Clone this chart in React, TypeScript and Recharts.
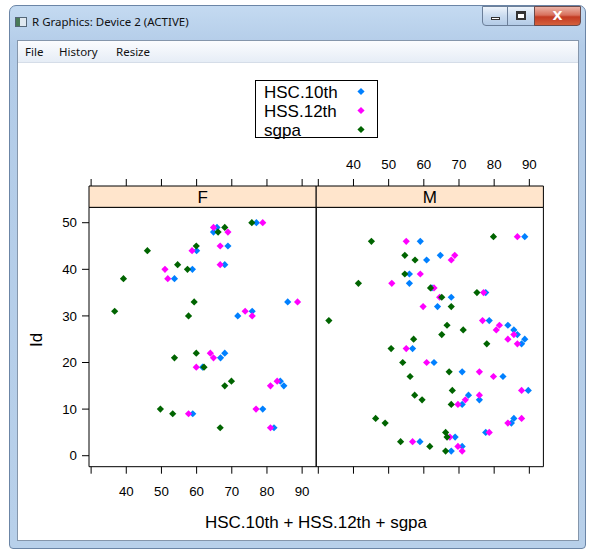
import React from 'react';
import { ScatterChart, Scatter, XAxis, YAxis, ReferenceArea } from 'recharts';

// ---- data ----
const seriesNames = ['HSC.10th', 'HSS.12th', 'sgpa'];
const seriesColors = ['#0080ff', '#ff00ff', '#006400'];
const xTicks = [30, 40, 50, 60, 70, 80, 90];
const yTicks = [0, 10, 20, 30, 40, 50];
const panelLabels = ['F', 'M'];

const fIds = [50, 49, 48, 45, 44, 41, 40, 38, 33, 31, 30, 22, 21, 19, 16, 15, 10, 9, 6];
const fHSC10 = [77.0, 65.8, 64.8, 68.9, 60.0, 68.0, 58.8, 53.7, 85.9, 75.8, 71.7, 68.0, 66.8, 61.7, 83.8, 84.8, 78.8, 58.9, 82.0];
const fHSS12 = [78.8, 64.8, 68.9, 66.7, 58.7, 66.7, 51.0, 51.8, 88.7, 73.8, 75.8, 63.9, 64.8, 59.9, 82.9, 81.0, 76.9, 57.7, 81.0];
const fSgpa = [75.7, 68.0, 66.1, 59.9, 46.0, 54.6, 57.4, 39.2, 59.3, 36.7, 57.7, 59.9, 53.7, 62.1, 69.9, 68.0, 49.7, 53.2, 66.7];

const mIds = [47, 46, 43, 42, 39, 37, 36, 35, 34, 32, 29, 28, 27, 26, 25, 24, 23, 20, 18, 17, 14, 13, 12, 11, 8, 7, 5, 4, 3, 2, 1];
const mHSC10 = [88.7, 59.0, 64.7, 60.8, 55.9, 55.9, 62.3, 77.6, 67.8, 63.9, 78.6, 83.9, 85.6, 86.6, 88.7, 87.8, 56.8, 62.9, 70.9, 82.5, 89.7, 72.7, 75.8, 70.9, 85.6, 84.9, 77.6, 68.9, 58.9, 70.9, 67.8];
const mHSS12 = [86.6, 55.0, 68.8, 67.8, 59.0, 50.9, 62.9, 77.0, 64.5, 59.8, 76.7, 81.5, 80.6, 85.6, 83.9, 86.6, 55.0, 60.8, 75.8, 79.8, 87.8, 75.8, 71.8, 69.7, 87.8, 83.9, 78.6, 67.4, 56.8, 69.7, 70.9];
const mSgpa = [79.8, 45.1, 54.6, 57.5, 54.6, 41.4, 61.9, 75.1, 65.1, 67.8, 33.0, 66.6, 71.2, 65.1, 57.1, 77.9, 50.7, 54.0, 67.2, 56.1, 68.1, 57.4, 59.5, 67.8, 46.3, 49.0, 66.2, 66.6, 53.4, 61.7, 66.2];

// ---- layout ----
const W = 592;
const H = 552;
const X0 = 29.4;
const X1 = 94.0;
const Y0 = -2.36;
const YS = 53.3; // strip bottom
const YT = 57.88; // strip top
const FONT = '"Liberation Sans", Arial, sans-serif';

const Diamond = (p: any) => {
  const { cx, cy, fill } = p;
  if (cx == null || cy == null) return <g />;
  const r = 3.6;
  return <path d={`M${cx},${cy - r}L${cx + r},${cy}L${cx},${cy + r}L${cx - r},${cy}Z`} fill={fill} />;
};

const mkTick = (show: boolean, yPos: number) => (p: any) => {
  const v = p.payload && p.payload.value;
  if (!show || v < 40) return <g />;
  return (
    <text x={p.x} y={yPos} textAnchor="middle" dy="0.35em" fontSize={13.3} fill="#000" fontFamily={FONT}>
      {v}
    </text>
  );
};

function Panel(props: { label: string; ids: number[]; vals: number[][]; isF: boolean }) {
  const { label, ids, vals, isF } = props;
  const left = isF ? 89 : 316.2;
  const right = isF ? 316.2 : 543.4;
  const axisW = 40;
  const axisH = 30;
  const margin = {
    top: 186 - axisH,
    bottom: H - 466.7 - axisH,
    left: isF ? left - axisW : left,
    right: isF ? W - right : W - right - axisW,
  };
  return (
    <div style={{ position: 'absolute', left: 0, top: 0, width: W, height: H }}>
      <ScatterChart width={W} height={H} margin={margin}>
        <XAxis
          xAxisId="b"
          orientation="bottom"
          type="number"
          dataKey="x"
          domain={[X0, X1]}
          allowDataOverflow
          ticks={xTicks}
          interval={0}
          height={axisH}
          tickSize={7}
          tickMargin={0}
          axisLine={false}
          tickLine={{ stroke: '#000' }}
          tick={mkTick(isF, 491)}
        />
        <XAxis
          xAxisId="t"
          orientation="top"
          type="number"
          dataKey="x"
          domain={[X0, X1]}
          allowDataOverflow
          ticks={xTicks}
          interval={0}
          height={axisH}
          tickSize={7}
          tickMargin={0}
          axisLine={false}
          tickLine={{ stroke: '#000' }}
          tick={mkTick(!isF, 164)}
        />
        <YAxis
          yAxisId="y"
          orientation={isF ? 'left' : 'right'}
          type="number"
          dataKey="y"
          domain={[Y0, YT]}
          allowDataOverflow
          ticks={yTicks}
          interval={0}
          width={axisW}
          tickSize={7}
          tickMargin={5}
          axisLine={false}
          tickLine={{ stroke: '#000' }}
          tick={isF ? { fontSize: 13.3, fill: '#000', fontFamily: FONT } : false}
        />
        <ReferenceArea
          xAxisId="b"
          yAxisId="y"
          x1={X0}
          x2={X1}
          y1={Y0}
          y2={YS}
          fill="#ffffff"
          fillOpacity={0}
          stroke="#000"
          strokeWidth={1}
        />
        <ReferenceArea
          xAxisId="b"
          yAxisId="y"
          x1={X0}
          x2={X1}
          y1={YS}
          y2={YT}
          fill="#ffe5cc"
          fillOpacity={1}
          stroke="#000"
          strokeWidth={1}
          label={{ value: label, position: 'center', fontSize: 17, fill: '#000', fontFamily: FONT }}
        />
        {vals.map((v, si) => (
          <Scatter
            key={seriesNames[si]}
            name={seriesNames[si]}
            xAxisId="b"
            yAxisId="y"
            data={ids.map((id, i) => ({ x: v[i], y: id }))}
            fill={seriesColors[si]}
            shape={Diamond}
            isAnimationActive={false}
          />
        ))}
      </ScatterChart>
    </div>
  );
}

function WindowChrome() {
  return (
    <>
      <div
        style={{
          position: 'absolute',
          left: 9,
          top: 5,
          width: 577,
          height: 544,
          background: 'linear-gradient(#c4daf1, #b3cce8 40px, #b8d0ea)',
          border: '1px solid #6b85a6',
          borderRadius: '7px 7px 4px 4px',
          boxSizing: 'border-box',
        }}
      />
      {/* icon */}
      <div
        style={{
          position: 'absolute',
          left: 15,
          top: 17,
          width: 12,
          height: 10,
          background: 'linear-gradient(90deg,#4a7a58 0,#4a7a58 4px,#dfe8f0 4px)',
          border: '1px solid #556677',
          boxSizing: 'border-box',
        }}
      />
      <div
        style={{
          position: 'absolute',
          left: 32,
          top: 14,
          fontFamily: '"Noto Sans", "DejaVu Sans", sans-serif',
          fontSize: 11.5,
          color: '#111',
          whiteSpace: 'nowrap',
        }}
      >
        R Graphics: Device 2 (ACTIVE)
      </div>
      {/* buttons */}
      <div
        style={{
          position: 'absolute',
          left: 482,
          top: 6,
          width: 26,
          height: 20,
          background: 'linear-gradient(#eef4fb, #c9dbef 50%, #b4cbe6)',
          border: '1px solid #6b7f99',
          borderRadius: '0 0 0 4px',
          boxSizing: 'border-box',
        }}
      >
        <div style={{ position: 'absolute', left: 8, top: 10, width: 9, height: 3, border: '1px solid #333', background: '#fff', boxSizing: 'border-box' }} />
      </div>
      <div
        style={{
          position: 'absolute',
          left: 507,
          top: 6,
          width: 28,
          height: 20,
          background: 'linear-gradient(#eef4fb, #c9dbef 50%, #b4cbe6)',
          border: '1px solid #6b7f99',
          boxSizing: 'border-box',
        }}
      >
        <div style={{ position: 'absolute', left: 8, top: 4, width: 10, height: 9, border: '2px solid #333', borderTopWidth: 3, background: '#fff', boxSizing: 'border-box' }} />
      </div>
      <div
        style={{
          position: 'absolute',
          left: 534,
          top: 6,
          width: 47,
          height: 20,
          background: 'linear-gradient(#eab2a6, #d8705c 45%, #c33a22 55%, #d4603c)',
          border: '1px solid #6b4a4a',
          borderRadius: '0 0 4px 0',
          boxSizing: 'border-box',
          color: '#fff',
          fontFamily: '"DejaVu Sans", sans-serif',
          fontWeight: 'bold',
          fontSize: 13,
          textAlign: 'center',
          lineHeight: '18px',
        }}
      >
        X
      </div>
      {/* client area */}
      <div
        style={{
          position: 'absolute',
          left: 17,
          top: 40,
          width: 562,
          height: 501,
          background: '#fff',
          border: '1px solid #8596ab',
          boxSizing: 'border-box',
        }}
      >
        <div
          style={{
            position: 'absolute',
            left: 0,
            top: 0,
            width: '100%',
            height: 22,
            background: 'linear-gradient(#fbfcfe, #e6edf6)',
            borderBottom: '1px solid #d5dde8',
            boxSizing: 'border-box',
            fontFamily: '"Noto Sans", "DejaVu Sans", sans-serif',
            fontSize: 11.5,
            color: '#111',
          }}
        >
          <span style={{ position: 'absolute', left: 7, top: 3 }}>File</span>
          <span style={{ position: 'absolute', left: 41, top: 3 }}>History</span>
          <span style={{ position: 'absolute', left: 98, top: 3 }}>Resize</span>
        </div>
      </div>
    </>
  );
}

function Overlay() {
  const legendY = [92.5, 111.5, 130.5];
  return (
    <svg
      width={W}
      height={H}
      style={{ position: 'absolute', left: 0, top: 0, pointerEvents: 'none' }}
      fontFamily={FONT}
    >
      <rect x={255.5} y={80.5} width={122} height={57} fill="#fff" stroke="#000" strokeWidth={1} />
      {seriesNames.map((n, i) => (
        <g key={n}>
          <text x={264} y={legendY[i]} dy="0.35em" fontSize={17} fill="#000">
            {n}
          </text>
          <path
            d={`M361,${legendY[i] - 3.6 - 1}L${361 + 3.6},${legendY[i] - 1}L361,${legendY[i] + 3.6 - 1}L${361 - 3.6},${legendY[i] - 1}Z`}
            fill={seriesColors[i]}
          />
        </g>
      ))}
      <text x={316} y={522} dy="0.35em" textAnchor="middle" fontSize={17} fill="#000">
        HSC.10th + HSS.12th + sgpa
      </text>
      <text x={36} y={340} dy="0.35em" textAnchor="middle" fontSize={17} fill="#000" transform="rotate(-90 36 340)">
        Id
      </text>
    </svg>
  );
}

export default function App() {
  return (
    <div style={{ position: 'absolute', left: 0, top: 0, width: W, height: H, background: '#fff', overflow: 'hidden' }}>
      <WindowChrome />
      <Panel label={panelLabels[0]} ids={fIds} vals={[fHSC10, fHSS12, fSgpa]} isF={true} />
      <Panel label={panelLabels[1]} ids={mIds} vals={[mHSC10, mHSS12, mSgpa]} isF={false} />
      <Overlay />
    </div>
  );
}
